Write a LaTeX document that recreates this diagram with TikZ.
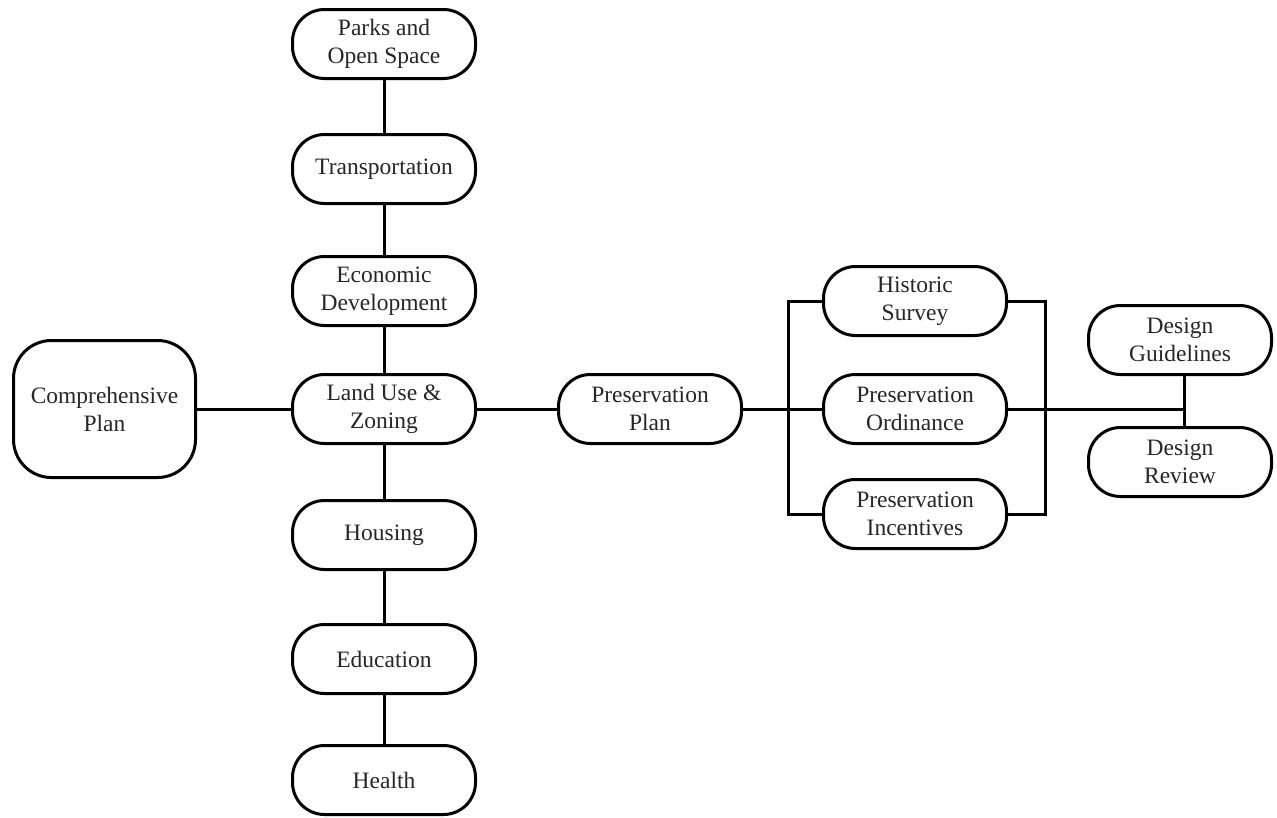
\documentclass[tikz,border=0pt]{standalone}
\usepackage{fontspec}
\setmainfont{Liberation Serif}
\begin{document}
\begin{tikzpicture}[x=1pt,y=-1pt,
  pill/.style={draw, line width=3pt, rounded corners=32pt, minimum width=183pt, minimum height=69pt, align=center, font=\fontsize{23.5}{28}\selectfont, text=black!85, inner sep=0pt},
  bigbox/.style={pill, rounded corners=38pt, minimum width=182pt, minimum height=137pt},
  conn/.style={line width=3pt}]
\useasboundingbox (0,0) rectangle (1277,817);
\node[pill] (parks) at (384,44) {Parks and\\Open Space};
\node[pill] (trans) at (384,169) {Transportation};
\node[pill] (econ) at (384,291) {Economic\\Development};
\node[pill] (land) at (384,409) {Land Use \&\\Zoning};
\node[pill] (hous) at (384,535) {Housing};
\node[pill] (edu) at (384,659) {Education};
\node[pill] (health) at (384,780) {Health};
\node[bigbox] (comp) at (104.5,409) {Comprehensive\\Plan};
\node[pill] (pres) at (650,409) {Preservation\\Plan};
\node[pill] (hist) at (915,301) {Historic\\Survey};
\node[pill] (ord) at (915,409) {Preservation\\Ordinance};
\node[pill] (inc) at (915,514) {Preservation\\Incentives};
\node[pill] (dg) at (1180,340) {Design\\Guidelines};
\node[pill] (dr) at (1180,462) {Design\\Review};
\coordinate (bl) at (788,409);
\coordinate (br) at (1045,409);
\coordinate (jn) at (1184,409);
\draw[conn] (parks) -- (trans);
\draw[conn] (trans) -- (econ);
\draw[conn] (econ) -- (land);
\draw[conn] (land) -- (hous);
\draw[conn] (hous) -- (edu);
\draw[conn] (edu) -- (health);
\draw[conn] (comp) -- (land);
\draw[conn] (land) -- (pres);
\draw[conn] (pres) -- (ord);
\draw[conn] (hist.west) -| (bl) |- (inc.west);
\draw[conn] (hist.east) -| (br) |- (inc.east);
\draw[conn] (ord.east) -- (jn);
\draw[conn] (dg.south -| jn) -- (dr.north -| jn);
\end{tikzpicture}
\end{document}
